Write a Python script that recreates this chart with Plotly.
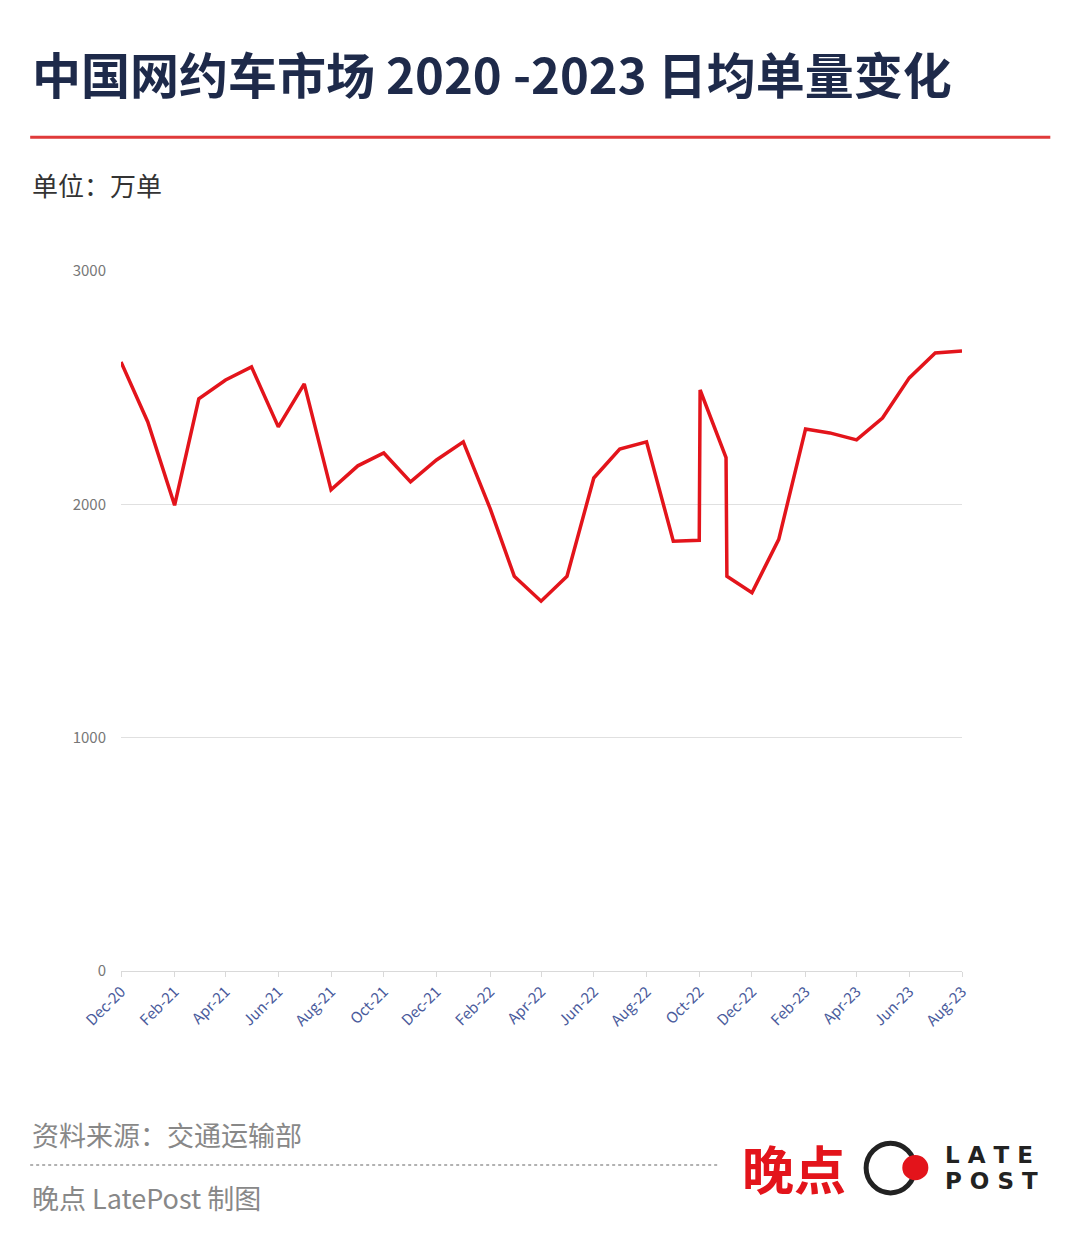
import plotly.graph_objects as go

months = ["2020-12-01", "2021-01-01", "2021-02-01", "2021-03-01", "2021-04-01", "2021-05-01",
          "2021-06-01", "2021-07-01", "2021-08-01", "2021-09-01", "2021-10-01", "2021-11-01",
          "2021-12-01", "2022-01-01", "2022-02-01", "2022-03-01", "2022-04-01", "2022-05-01",
          "2022-06-01", "2022-07-01", "2022-08-01", "2022-09-01", "2022-10-01", "2022-10-02",
          "2022-11-01", "2022-11-02", "2022-12-01", "2023-01-01", "2023-02-01", "2023-03-01",
          "2023-04-01", "2023-05-01", "2023-06-01", "2023-07-01", "2023-08-01"]
orders = [2610, 2353, 1996, 2452, 2533, 2589, 2332, 2516, 2062, 2165, 2220, 2096,
          2190, 2268, 1983, 1692, 1585, 1692, 2113, 2237, 2268, 1842, 1846, 2490,
          2200, 1692, 1621, 1850, 2323, 2306, 2276, 2370, 2542, 2649, 2657]

FONT = "Noto Sans CJK SC"

fig = go.Figure(go.Scatter(x=months, y=orders, mode="lines",
                           line=dict(color="#e3141b", width=3.5), hoverinfo="x+y"))

fig.update_layout(
    width=1080, height=1247, paper_bgcolor="white", plot_bgcolor="white",
    margin=dict(l=113, r=126, t=263, b=284), showlegend=False,
    font=dict(family=FONT),
    xaxis=dict(type="date", range=["2020-12-01", "2023-08-01"], dtick="M2",
               tick0="2020-12-01", tickformat="%b-%y", tickangle=-45,
               tickfont=dict(size=15, color="#4a5b9c"), showgrid=False,
               showline=True, linecolor="#d9d9d9", ticks="outside",
               tickcolor="#d9d9d9", ticklen=5),
    yaxis=dict(range=[0, 3000], dtick=1000, gridcolor="#e0e0e0",
               tickfont=dict(size=15, color="#777777"), zeroline=False,
               showline=False, ticklabelstandoff=14),
)

fig.add_annotation(text="<b>中国网约车市场 2020 -2023 日均单量变化</b>", xref="paper", yref="paper",
                   x=-0.108, y=1.283, xanchor="left", yanchor="middle", showarrow=False,
                   font=dict(size=49, color="#1e2a4a", family=FONT))
fig.add_shape(type="line", xref="paper", yref="paper", x0=-0.108, x1=1.105,
              y0=1.191, y1=1.191, line=dict(color="#e03a3a", width=3))
fig.add_annotation(text="单位：万单", xref="paper", yref="paper", x=-0.108, y=1.123,
                   xanchor="left", yanchor="middle", showarrow=False,
                   font=dict(size=26, color="#333333"))
fig.add_annotation(text="资料来源：交通运输部", xref="paper", yref="paper", x=-0.108, y=-0.234,
                   xanchor="left", yanchor="middle", showarrow=False,
                   font=dict(size=27, color="#888888"))
fig.add_shape(type="line", xref="paper", yref="paper", x0=-0.108, x1=0.712,
              y0=-0.277, y1=-0.277, line=dict(color="#999999", width=1.5, dash="dot"))
fig.add_annotation(text="晚点 LatePost 制图", xref="paper", yref="paper", x=-0.108, y=-0.324,
                   xanchor="left", yanchor="middle", showarrow=False,
                   font=dict(size=27, color="#888888"))
# logo
fig.add_annotation(text="<b>晚点</b>", xref="paper", yref="paper", x=0.736, y=-0.281,
                   xanchor="left", yanchor="middle", showarrow=False,
                   font=dict(size=52, color="#e3141b"))
fig.add_shape(type="circle", xref="paper", yref="paper", x0=0.886, x1=0.944,
              y0=-0.317, y1=-0.246, line=dict(color="#222222", width=5))
fig.add_shape(type="circle", xref="paper", yref="paper", x0=0.929, x1=0.960,
              y0=-0.299, y1=-0.263, fillcolor="#e3141b",
              line=dict(color="#e3141b", width=0))
fig.add_annotation(text="<b>L A T E</b>", xref="paper", yref="paper", x=0.978, y=-0.263,
                   xanchor="left", yanchor="middle", showarrow=False,
                   font=dict(size=23, color="#222222", family="DejaVu Sans"))
fig.add_annotation(text="<b>P O S T</b>", xref="paper", yref="paper", x=0.978, y=-0.300,
                   xanchor="left", yanchor="middle", showarrow=False,
                   font=dict(size=23, color="#222222", family="DejaVu Sans"))

fig.write_html("out.html")
